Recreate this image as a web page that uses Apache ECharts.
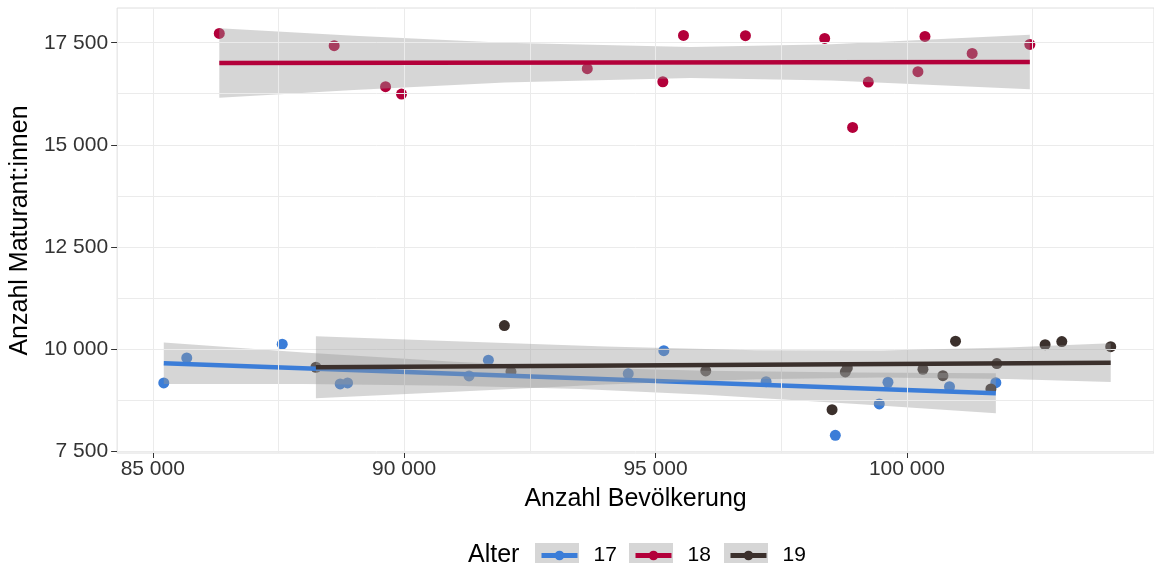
<!DOCTYPE html>
<html><head><meta charset="utf-8">
<script src="https://cdn.jsdelivr.net/npm/echarts@6/dist/echarts.min.js"></script>
<style>html,body{margin:0;padding:0;background:#fff}#c{width:1154px;height:570px}</style>
</head><body><div id="c"></div>
<script>
// ---- data ----
const groups = ['17', '18', '19'];
const groupColors = ['#3b7dd8', '#b3003a', '#3b302c'];

const pop17 = [85219, 85676, 87575, 88728, 88875, 91291, 91676, 94458, 95166, 97200, 98577, 99451, 99624, 100848, 101770];
const mat17 = [9167, 9779, 10115, 9142, 9167, 9338, 9723, 9395, 9958, 9198, 7885, 8652, 9184, 9076, 9174];

const pop18 = [86323, 88608, 89630, 89948, 93643, 95146, 95557, 96789, 98365, 98921, 99233, 100220, 100360, 101299, 102446];
const mat18 = [17728, 17426, 16422, 16243, 16863, 16544, 17679, 17672, 17605, 15424, 16537, 16789, 17654, 17238, 17458];

const pop19 = [88245, 91994, 92125, 96000, 98776, 98816, 98512, 100320, 100717, 100968, 101671, 101790, 102750, 103082, 104055];
const mat19 = [9551, 10571, 9444, 9461, 9437, 9534, 8512, 9502, 9345, 10189, 9020, 9640, 10105, 10179, 10056];

// fitted lines (end points) and confidence bands
const fit17X = [85219, 101770];
const fit17Y = [9650, 8914];
const band17X = [85219, 88000, 91000, 93500, 96000, 99000, 101770];
const band17Hi = [10160, 9912, 9687, 9547, 9465, 9423, 9404];
const band17Lo = [9140, 9140, 9099, 9017, 8877, 8651, 8424];

const fit18X = [86323, 102446];
const fit18Y = [17002, 17027];
const band18X = [86323, 89000, 92000, 95700, 98500, 102446];
const band18Hi = [17855, 17670, 17496, 17397, 17465, 17696];
const band18Lo = [16149, 16342, 16526, 16637, 16577, 16358];

const fit19X = [88245, 104055];
const fit19Y = [9551, 9664];
const band19X = [88245, 91000, 94000, 97000, 99500, 102000, 104055];
const band19Hi = [10311, 10191, 10057, 9969, 9963, 10033, 10137];
const band19Lo = [8791, 8951, 9127, 9259, 9301, 9265, 9191];

// axes
const xTicks = [85000, 90000, 95000, 100000];
const xMinor = [87500, 92500, 97500, 102500];
const yTicks = [7500, 10000, 12500, 15000, 17500];
const yMinor = [8750, 11250, 13750, 16250];
const xRange = [84291, 104916];
const yRange = [7451, 18350];

const xTitle = 'Anzahl Bevölkerung';
const yTitle = 'Anzahl Maturant:innen';
const legendTitle = 'Alter';

// ---- chart ----
const FONT = '"Liberation Sans", Arial, Helvetica, sans-serif';
const zip = (a, b) => a.map((v, i) => [v, b[i]]);
const fmt = v => String(v).replace(/\B(?=(\d{3})+(?!\d))/g, ' ');

function bandSeries(xs, lo, hi, z) {
  return {
    type: 'custom', coordinateSystem: 'cartesian2d', silent: true, clip: true, z: z,
    data: [[xs[0], lo[0]]],
    renderItem: function (params, api) {
      const pts = [];
      for (let i = 0; i < xs.length; i++) pts.push(api.coord([xs[i], hi[i]]));
      for (let i = xs.length - 1; i >= 0; i--) pts.push(api.coord([xs[i], lo[i]]));
      return { type: 'polygon', shape: { points: pts }, style: { fill: 'rgba(153,153,153,0.4)' } };
    }
  };
}
function fitSeries(name, xs, ys, color, z) {
  return {
    name: name, type: 'line', data: zip(xs, ys), symbol: 'circle', showSymbol: false, silent: true, z: z,
    lineStyle: { width: 4.5, color: color }, itemStyle: { color: color }
  };
}
function pointSeries(name, xs, ys, color) {
  return {
    name: 'p' + name, type: 'scatter', data: zip(xs, ys), symbolSize: 11, silent: true, z: 1,
    itemStyle: { color: color, opacity: 1 }
  };
}

const gridLines = [];
xTicks.concat(xMinor).forEach(v => gridLines.push({ xAxis: v }));
yTicks.concat(yMinor).forEach(v => gridLines.push({ yAxis: v }));

const chart = echarts.init(document.getElementById('c'), null, { renderer: 'canvas' });
const legendLefts = [539, 633, 728];
const boxLefts = [535, 629, 724];

chart.setOption({
  animation: false,
  textStyle: { fontFamily: FONT },
  grid: { left: 116, right: 0, top: 8, bottom: 117, show: true, borderColor: '#dedede', borderWidth: 1, backgroundColor: '#fff' },
  xAxis: {
    type: 'value', min: xRange[0], max: xRange[1],
    name: xTitle, nameLocation: 'middle', nameGap: 34,
    nameTextStyle: { fontSize: 25, color: '#000', fontFamily: FONT },
    axisLine: { show: false },
    axisTick: { show: true, length: 5, lineStyle: { color: '#333', width: 1 }, customValues: xTicks },
    axisLabel: { customValues: xTicks, formatter: fmt, fontSize: 21, color: '#333', margin: 6, fontFamily: FONT },
    splitLine: { show: false }
  },
  yAxis: {
    type: 'value', min: yRange[0], max: yRange[1],
    name: yTitle, nameLocation: 'middle', nameGap: 78,
    nameTextStyle: { fontSize: 25, color: '#000', fontFamily: FONT },
    axisLine: { show: false },
    axisTick: { show: true, length: 6, lineStyle: { color: '#333', width: 1 }, customValues: yTicks },
    axisLabel: { customValues: yTicks, formatter: fmt, fontSize: 21, color: '#333', margin: 9, fontFamily: FONT },
    splitLine: { show: false }
  },
  legend: groups.map((g, i) => ({
    data: [g], left: legendLefts[i], top: 545, padding: 0, itemWidth: 36, itemHeight: 12,
    selectedMode: false,
    lineStyle: { width: 5 },
    textStyle: { fontSize: 21, color: '#000', fontFamily: FONT, padding: [0, 0, 0, 11] }
  })),
  graphic: [
    { type: 'text', left: 468, top: 543, z: 10, style: { text: legendTitle, font: '25px ' + FONT, fill: '#000' } }
  ].concat(boxLefts.map(x => ({
    type: 'rect', left: x, top: 543, z: -1, shape: { width: 44, height: 20 }, style: { fill: '#d6d6d6' }
  }))),
  series: [
    {
      type: 'line', data: [], silent: true, showSymbol: false, z: 0,
      markLine: {
        silent: true, symbol: ['none', 'none'], label: { show: false }, animation: false,
        lineStyle: { color: '#ebebeb', width: 1, type: 'solid' },
        data: gridLines
      }
    },
    pointSeries(groups[0], pop17, mat17, groupColors[0]),
    pointSeries(groups[1], pop18, mat18, groupColors[1]),
    pointSeries(groups[2], pop19, mat19, groupColors[2]),
    bandSeries(band17X, band17Lo, band17Hi, 2),
    fitSeries(groups[0], fit17X, fit17Y, groupColors[0], 3),
    bandSeries(band18X, band18Lo, band18Hi, 4),
    fitSeries(groups[1], fit18X, fit18Y, groupColors[1], 5),
    bandSeries(band19X, band19Lo, band19Hi, 6),
    fitSeries(groups[2], fit19X, fit19Y, groupColors[2], 7)
  ]
});
</script>
</body></html>
